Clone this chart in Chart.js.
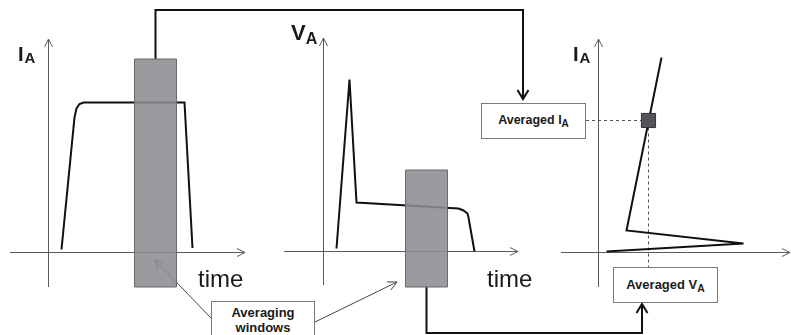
<!DOCTYPE html>
<html>
<head>
<meta charset="utf-8">
<script src="https://cdn.jsdelivr.net/npm/chart.js@4.4.1/dist/chart.umd.min.js"></script>
<style>
    body { margin: 0; background: #fff; }
    #wrap { position: relative; width: 791px; height: 335px; overflow: hidden; font-family: "Liberation Sans", Arial, sans-serif; color: #1a1a1a; }
    #diagram { position: absolute; left: 0; top: 0; }
    .lbl { position: absolute; white-space: nowrap; line-height: 1; }
    .sym { font-weight: bold; }
    .box { position: absolute; box-sizing: border-box; border: 1px solid #7a7a7a; background: #fff; font-weight: bold; text-align: center; white-space: nowrap; }
    .box sub { font-size: 0.8em; vertical-align: -3px; line-height: 0; }
</style>
</head>
<body>
<div id="wrap">
    <canvas id="diagram" width="791" height="335"></canvas>

    <div class="lbl sym" style="left:18px;top:44px;font-size:20px;">I<span style="font-size:15px;position:relative;top:2px;margin-left:1px;">A</span></div>
    <div class="lbl sym" style="left:291px;top:22px;font-size:22px;">V<span style="font-size:16px;position:relative;top:4px;">A</span></div>
    <div class="lbl sym" style="left:573px;top:44px;font-size:20px;">I<span style="font-size:15px;position:relative;top:2px;margin-left:1px;">A</span></div>

    <div class="lbl" style="left:198px;top:267px;font-size:24px;">time</div>
    <div class="lbl" style="left:487px;top:267px;font-size:24px;">time</div>

    <div class="box" style="left:481px;top:103px;width:105px;height:36px;line-height:33px;font-size:12.5px;">Averaged I<sub>A</sub></div>
    <div class="box" style="left:613px;top:267px;width:105px;height:36px;line-height:33px;font-size:13px;">Averaged V<sub>A</sub></div>
    <div class="box" style="left:211px;top:301px;width:104px;height:45px;line-height:15px;padding-top:3px;font-size:13px;">Averaging<br>windows</div>
</div>

<script>
// panel 1: anode current against time
var timeI = [1.3, 2.6, 2.8, 3.1, 3.5, 3.9, 13.6, 14.4];
var currentI = [0.02, 0.90, 0.96, 0.99, 1.0, 1.0, 1.0, 0.03];

// panel 2: anode voltage against time
var timeV = [1.3, 2.6, 3.3, 13.5, 14.0, 14.4, 14.5, 15.1];
var voltageV = [0.03, 1.72, 0.49, 0.43, 0.41, 0.38, 0.34, 0.0];

// panel 3: current against voltage
var voltageIV = [0.63, 0.28, 1.45, 0.08];
var currentIV = [1.30, 0.147, 0.06, 0.007];

// averaging windows (time) and the averaged point
var windowI = [8.6, 12.8];
var windowV = [8.2, 12.4];
var averagedV = 0.50;
var averagedI = 0.88;

// layout of the three panels (pixel frame of each axis pair)
var panels = {
    I:  { x0: 48.5,  y0: 252.5, sx: 10,  sy: 150, xFrom: 10,  xTo: 245, yFrom: 287, yTo: 39 },
    V:  { x0: 323.5, y0: 251.5, sx: 10,  sy: 100, xFrom: 284, xTo: 518, yFrom: 285, yTo: 38 },
    IV: { x0: 598.5, y0: 252.5, sx: 100, sy: 150, xFrom: 561, xTo: 790, yFrom: 287, yTo: 39 }
};
var windowTopI = 59, windowTopV = 170, windowBottom = 287;
var topRoute = 10, bottomRoute = 333;

function pt(p, u, v) {
    return { x: p.x0 + u * p.sx, y: p.y0 - v * p.sy };
}

function series(p, us, vs) {
    var out = [];
    for (var i = 0; i < us.length; i++) {
        out.push(pt(p, us[i], vs[i]));
    }
    return out;
}

function line(points, color, width, order, dash) {
    return {
        data: points,
        showLine: true,
        borderColor: color,
        borderWidth: width,
        borderDash: dash || [],
        borderJoinStyle: 'miter',
        pointRadius: 0,
        fill: false,
        tension: 0,
        order: order
    };
}

function arrowHead(from, to, len, half) {
    var dx = to.x - from.x, dy = to.y - from.y;
    var d = Math.sqrt(dx * dx + dy * dy);
    var ux = dx / d, uy = dy / d;
    var bx = to.x - ux * len, by = to.y - uy * len;
    return [{ x: bx - uy * half, y: by + ux * half }, to, { x: bx + uy * half, y: by - ux * half }];
}

function windowRect(p, w, top) {
    var left = p.x0 + w[0] * p.sx, right = p.x0 + w[1] * p.sx;
    return {
        data: [{ x: left, y: top }, { x: right, y: top }, { x: right, y: windowBottom }, { x: left, y: windowBottom }, { x: left, y: top }],
        showLine: true,
        borderColor: '#6a6a6a',
        borderWidth: 1,
        backgroundColor: 'rgba(140,140,146,0.88)',
        pointRadius: 0,
        fill: 'shape',
        tension: 0,
        order: 1
    };
}

var datasets = [];
var axisColor = '#5a5a5a';

// axes with open arrow heads
['I', 'V', 'IV'].forEach(function (k) {
    var p = panels[k];
    var xa = [{ x: p.xFrom, y: p.y0 }, { x: p.xTo, y: p.y0 }];
    var ya = [{ x: p.x0, y: p.yFrom }, { x: p.x0, y: p.yTo }];
    datasets.push(line(xa, axisColor, 1, 3));
    datasets.push(line(ya, axisColor, 1, 3));
    datasets.push(line(arrowHead(xa[0], xa[1], 8, 4), axisColor, 1, 3));
    datasets.push(line(arrowHead(ya[0], ya[1], 8, 4), axisColor, 1, 3));
});

// measured curves
datasets.push(line(series(panels.I, timeI, currentI), '#111', 2, 2));
datasets.push(line(series(panels.V, timeV, voltageV), '#111', 2, 2));
datasets.push(line(series(panels.IV, voltageIV, currentIV), '#111', 2, 2));

// averaging windows
datasets.push(windowRect(panels.I, windowI, windowTopI));
datasets.push(windowRect(panels.V, windowV, windowTopV));

// connector from current window to "Averaged I_A"
var cI = panels.I.x0 + (windowI[0] + windowI[1]) / 2 * panels.I.sx;
var boxIx = 523;
var routeI = [{ x: cI, y: windowTopI }, { x: cI, y: topRoute }, { x: boxIx, y: topRoute }, { x: boxIx, y: 99 }];
datasets.push(line(routeI, '#111', 2, 1));
datasets.push(line(arrowHead(routeI[2], routeI[3], 9, 5.5), '#111', 2, 1));

// connector from voltage window to "Averaged V_A"
var cV = panels.V.x0 + (windowV[0] + windowV[1]) / 2 * panels.V.sx;
var boxVx = 642;
var routeV = [{ x: cV, y: windowBottom }, { x: cV, y: bottomRoute }, { x: boxVx, y: bottomRoute }, { x: boxVx, y: 304 }];
datasets.push(line(routeV, '#111', 2, 1));
datasets.push(line(arrowHead(routeV[2], routeV[3], 9, 5.5), '#111', 2, 1));

// "Averaging windows" pointers
var pointerL = [{ x: 211, y: 318 }, { x: 155, y: 260 }];
var pointerR = [{ x: 315, y: 322 }, { x: 397, y: 282 }];
datasets.push(line(pointerL, '#444', 1, 1));
datasets.push(line(arrowHead(pointerL[0], pointerL[1], 9, 4.5), '#444', 1, 1));
datasets.push(line(pointerR, '#444', 1, 1));
datasets.push(line(arrowHead(pointerR[0], pointerR[1], 9, 4.5), '#444', 1, 1));

// averaged point and its dashed guides
var avg = pt(panels.IV, averagedV, averagedI);
datasets.push(line([{ x: 586, y: avg.y }, { x: avg.x - 7, y: avg.y }], '#555', 1, 2, [3, 3]));
datasets.push(line([{ x: avg.x, y: avg.y + 7 }, { x: avg.x, y: 267 }], '#555', 1, 2, [3, 3]));
datasets.push({
    data: [avg],
    showLine: false,
    pointStyle: 'rect',
    pointRadius: 10,
    backgroundColor: '#545458',
    borderColor: '#333',
    borderWidth: 1,
    order: 0
});

var diagram = new Chart(document.getElementById('diagram'), {
    type: 'scatter',
    data: { datasets: datasets },
    options: {
        responsive: false,
        animation: false,
        events: [],
        layout: { padding: 0, autoPadding: false },
        plugins: {
            legend: { display: false },
            tooltip: { enabled: false }
        },
        scales: {
            x: { type: 'linear', min: 0, max: 791, display: false },
            y: { type: 'linear', min: 0, max: 335, reverse: true, display: false }
        }
    }
});
</script>
</body>
</html>
